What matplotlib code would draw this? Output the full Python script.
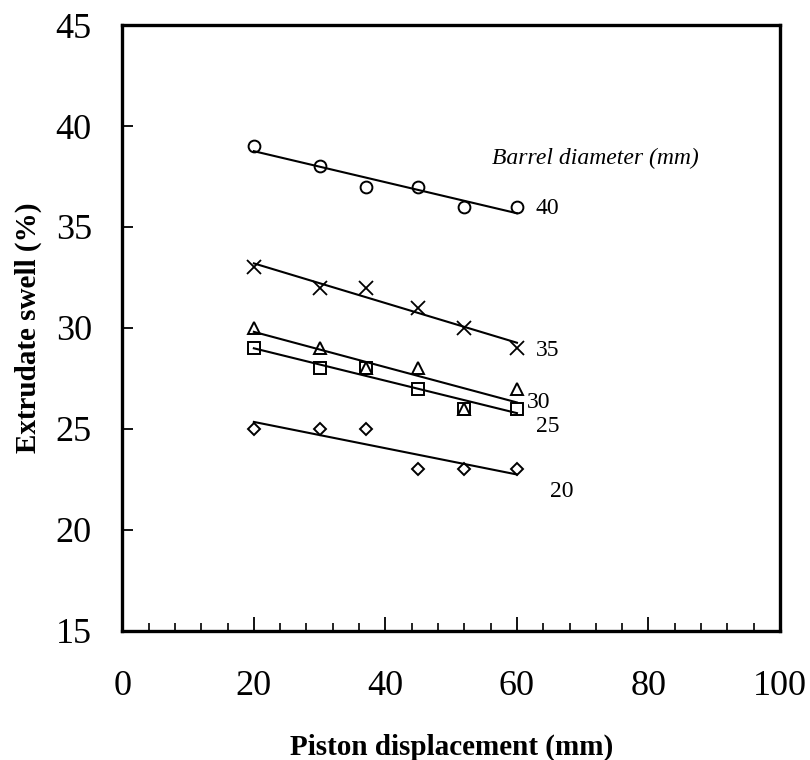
import numpy as np
import matplotlib
matplotlib.use("Agg")
import matplotlib.pyplot as plt
from matplotlib.ticker import MultipleLocator

plt.rcParams['font.family'] = ['Liberation Serif', 'DejaVu Serif']

# piston displacement (mm)
x = [20, 30, 37, 45, 52, 60]

# extrudate swell (%) per barrel diameter
d40 = [39, 38, 37, 37, 36, 36]
d35 = [33, 32, 32, 31, 30, 29]
d30 = [30, 29, 28, 28, 26, 27]
d25 = [29, 28, 28, 27, 26, 26]
d20 = [25, 25, 25, 23, 23, 23]

series = [
    (d40, 'o', '40', (62.8, 35.9)),
    (d35, 'x', '35', (62.9, 28.9)),
    (d30, '^', '30', (61.5, 26.3)),
    (d25, 's', '25', (62.9, 25.1)),
    (d20, 'D', '20', (65.0, 21.9)),
]

fig = plt.figure(figsize=(8.1, 7.6), dpi=100)
ax = fig.add_axes([0.151, 0.170, 0.812, 0.797])

xs = np.array(x, dtype=float)
for ys, mk, lab, pos in series:
    if mk == 'x':
        ax.plot(xs, ys, linestyle='none', marker='x', ms=10, mew=1.3, color='black')
    else:
        ax.plot(xs, ys, linestyle='none', marker=mk, ms=6.5 if mk == 'D' else 8.5,
                mfc='none', mec='black', mew=1.4)
    k, b = np.polyfit(xs, ys, 1)
    ax.plot([xs[0], xs[-1]], [k * xs[0] + b, k * xs[-1] + b], color='black', lw=1.5)
    ax.text(pos[0], pos[1], lab, fontsize=17, va='center', ha='left')

ax.text(56.2, 38.4, 'Barrel diameter (mm)', fontsize=17, style='italic',
        va='center', ha='left')

ax.set_xlim(0, 100)
ax.set_ylim(15, 45)
ax.xaxis.set_major_locator(MultipleLocator(20))
ax.xaxis.set_minor_locator(MultipleLocator(4))
ax.yaxis.set_major_locator(MultipleLocator(5))
ax.tick_params(which='major', direction='in', length=10, width=1.3, labelsize=26)
ax.tick_params(which='minor', direction='in', length=6, width=1.2)
ax.tick_params(axis='y', which='major', length=8, pad=22)
ax.tick_params(axis='x', which='major', pad=28)

for sp in ax.spines.values():
    sp.set_linewidth(2.4)

ax.set_xlabel('Piston displacement (mm)', fontsize=21, fontweight='bold', labelpad=22)
ax.set_ylabel('Extrudate swell (%)', fontsize=21, fontweight='bold', labelpad=10)

fig.savefig('out.png', dpi=100)
